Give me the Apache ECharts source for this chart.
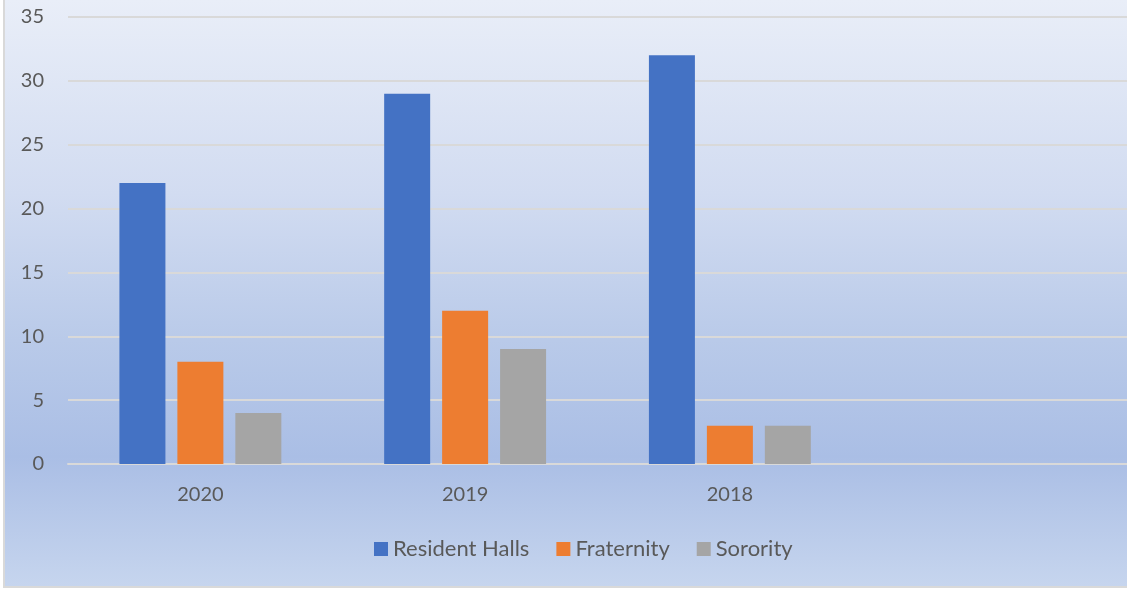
<!DOCTYPE html>
<html>
<head>
<meta charset="utf-8">
<script src="https://cdn.jsdelivr.net/npm/echarts@6/dist/echarts.min.js"></script>
<style>
html,body{margin:0;padding:0;width:1127px;height:590px;overflow:hidden;background:#fff;}
#bg{position:absolute;left:3px;top:-2px;width:1130px;height:590px;box-sizing:border-box;border:2px solid #d9d9d9;
background:linear-gradient(to bottom,#e9eef8 0%,#d2dcf1 33%,#b9cae9 58%,#aabee5 78%,#c6d5ee 100%);}
#chart{position:absolute;left:0;top:0;width:1127px;height:590px;}
</style>
</head>
<body>
<div id="bg"></div>
<div id="chart"></div>
<script>
const categories = ['2020', '2019', '2018', ''];
const residentHalls = [22, 29, 32, null];
const fraternity = [8, 12, 3, null];
const sorority = [4, 9, 3, null];
const seriesNames = ['Resident Halls', 'Fraternity', 'Sorority'];
const colors = ['#4472c4', '#ed7d31', '#a5a5a5'];

const chart = echarts.init(document.getElementById('chart'), null, {renderer: 'canvas'});
const font = 'Lato, "Open Sans", sans-serif';
const mk = (name, data, color) => ({
  name, type: 'bar', data, barWidth: 46, barGap: '26%',
  itemStyle: {color}, emphasis: {disabled: true}
});
chart.setOption({
  backgroundColor: 'transparent',
  animation: false,
  grid: {left: 68, right: 0, top: 17, bottom: 126, containLabel: false},
  xAxis: {
    type: 'category', data: categories,
    axisLine: {show: true, lineStyle: {color: '#d9d9d9', width: 2}},
    axisTick: {show: false},
    axisLabel: {color: '#595959', fontSize: 20, fontFamily: font, margin: 21}
  },
  yAxis: {
    type: 'value', min: 0, max: 35, interval: 5,
    axisLine: {show: false}, axisTick: {show: false},
    splitLine: {lineStyle: {color: '#d9d9d9', width: 2}},
    axisLabel: {color: '#595959', fontSize: 20, fontFamily: font, margin: 24}
  },
  legend: {
    top: 533, left: 369, itemWidth: 14, itemHeight: 14, itemGap: 27,
    icon: 'rect', data: seriesNames,
    textStyle: {color: '#595959', fontSize: 22, fontFamily: font, padding: [0,0,0,0]}
  },
  series: [
    mk(seriesNames[0], residentHalls, colors[0]),
    mk(seriesNames[1], fraternity, colors[1]),
    mk(seriesNames[2], sorority, colors[2])
  ]
});
</script>
</body>
</html>
